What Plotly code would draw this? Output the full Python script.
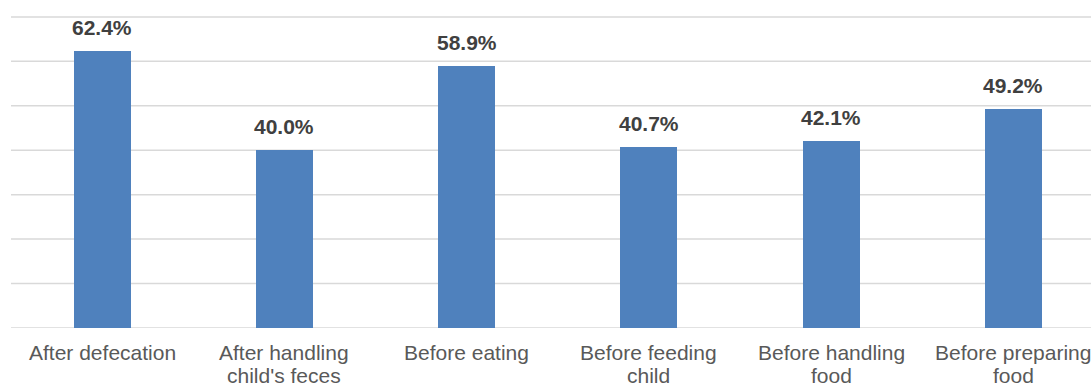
import plotly.graph_objects as go

categories = ["After defecation", "After handling child's feces", "Before eating",
              "Before feeding child", "Before handling food", "Before preparing food"]
label_lines = [["After defecation"], ["After handling", "child's feces"], ["Before eating"],
               ["Before feeding", "child"], ["Before handling", "food"], ["Before preparing", "food"]]
values = [62.4, 40.0, 58.9, 40.7, 42.1, 49.2]
labels = ["62.4%", "40.0%", "58.9%", "40.7%", "42.1%", "49.2%"]
grid_vals = [0, 10, 20, 30, 40, 50, 60, 70]

FONT = "Liberation Sans, Arial, sans-serif"

fig = go.Figure()
fig.add_trace(go.Bar(
    x=list(range(len(categories))), y=values,
    marker=dict(color="#4F81BD", line=dict(width=0)),
    width=0.313, hoverinfo="skip",
))

for g in grid_vals:
    fig.add_shape(type="line", xref="paper", yref="y", x0=0, x1=1, y0=g, y1=g,
                  line=dict(color="#D9D9D9", width=1.5),
                  layer="above" if g == max(grid_vals) else "below")

for i, (v, t) in enumerate(zip(values, labels)):
    fig.add_annotation(x=i, y=v, text="<b>%s</b>" % t, showarrow=False,
                       yanchor="bottom", yshift=10,
                       font=dict(family=FONT, size=21, color="#404040"))

for i, lines in enumerate(label_lines):
    for j, line in enumerate(lines):
        fig.add_annotation(x=i, xref="x", y=0, yref="paper", text=line, showarrow=False,
                           yanchor="middle", yshift=-24.5 - 22.5 * j,
                           font=dict(family=FONT, size=21, color="#595959"))

fig.update_layout(
    width=1091, height=385,
    margin=dict(l=11, r=0, t=8, b=57, autoexpand=False),
    paper_bgcolor="white", plot_bgcolor="white",
    showlegend=False,
    bargap=0,
    xaxis=dict(
        range=[-0.5, 5.426], tickmode="array", tickvals=list(range(len(categories))),
        showticklabels=False, showgrid=False, zeroline=False, showline=False,
        ticks="", automargin=False,
    ),
    yaxis=dict(
        range=[0, 72], showgrid=False, zeroline=False,
        showticklabels=False, ticks="", showline=False, automargin=False,
    ),
)

fig.write_html("out.html", config={"displayModeBar": False})
